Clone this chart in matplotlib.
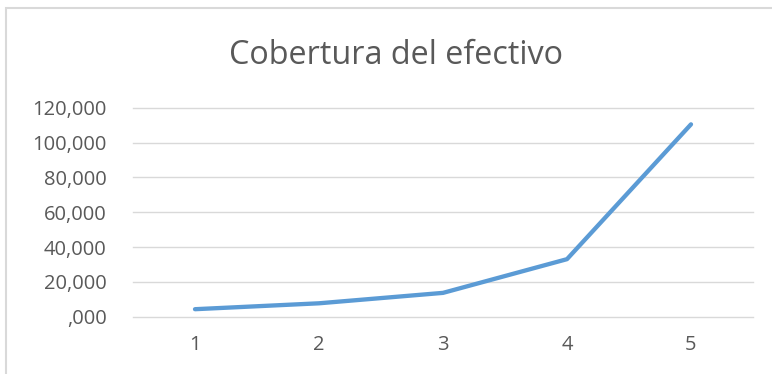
import matplotlib
matplotlib.use("Agg")
import matplotlib.pyplot as plt
from matplotlib.patches import Rectangle
from matplotlib.ticker import FuncFormatter

# data
periods = [1, 2, 3, 4, 5]
cobertura = [4.2, 7.6, 13.6, 33.0, 110.6]
y_ticks = [0, 20, 40, 60, 80, 100, 120]

plt.rcParams['font.family'] = ['Open Sans', 'DejaVu Sans']

fig = plt.figure(figsize=(7.72, 3.74), dpi=100)
fig.patch.set_facecolor('white')

# chart border (runs off the right and bottom edges like the screenshot)
fig.patches.append(Rectangle((6 / 772, -0.05), 1.0, 1 - 8 / 374 + 0.05,
                             transform=fig.transFigure, fill=False,
                             edgecolor='#d9d9d9', linewidth=1.5))

ax = fig.add_axes([133 / 772, 1 - 316.5 / 374, 620 / 772, 208.5 / 374])
ax.plot(periods, cobertura, color='#5b9bd5', linewidth=3.1,
        solid_capstyle='round', solid_joinstyle='round', zorder=3)

ax.set_xlim(0.5, 5.5)
ax.set_ylim(0, 120)
ax.set_xticks(periods)
ax.set_yticks(y_ticks)

def fmt(v, pos):
    return ',000' if v == 0 else '{:d},000'.format(int(v))

ax.yaxis.set_major_formatter(FuncFormatter(fmt))
ax.grid(axis='y', color='#d9d9d9', linewidth=1)
for gl in ax.get_ygridlines():
    gl.set_clip_on(False)
ax.set_axisbelow(True)
for s in ax.spines.values():
    s.set_visible(False)
ax.tick_params(length=0, labelsize=14.5, colors='#595959')
ax.tick_params(axis='y', pad=19)
ax.tick_params(axis='x', pad=13)

fig.text(396 / 772, 1 - 64.5 / 374, 'Cobertura del efectivo', ha='center',
         va='baseline', fontsize=23.3, color='#595959')

fig.savefig('out.png', dpi=100)
